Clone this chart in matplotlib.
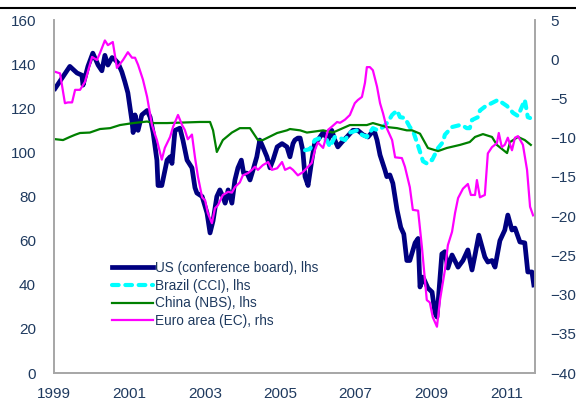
import matplotlib
matplotlib.use("Agg")
import matplotlib.pyplot as plt
from matplotlib.lines import Line2D

# consumer confidence series, dates as decimal years

us_dates = [1999.03, 1999.42, 1999.61, 1999.74, 1999.77, 1999.90, 2000.03, 2000.17, 2000.27, 2000.35,
            2000.43, 2000.54, 2000.62, 2000.70, 2000.80, 2000.88, 2000.96, 2001.07, 2001.10, 2001.15,
            2001.23, 2001.33, 2001.47, 2001.55, 2001.63, 2001.73, 2001.76, 2001.86, 2002.00, 2002.08,
            2002.13, 2002.21, 2002.34, 2002.42, 2002.53, 2002.66, 2002.74, 2002.79, 2002.93, 2003.06,
            2003.14, 2003.22, 2003.32, 2003.40, 2003.48, 2003.54, 2003.62, 2003.72, 2003.80, 2003.88,
            2003.97, 2004.03, 2004.12, 2004.20, 2004.28, 2004.38, 2004.46, 2004.54, 2004.65, 2004.73,
            2004.81, 2004.92, 2005.05, 2005.18, 2005.26, 2005.34, 2005.39, 2005.47, 2005.53, 2005.60,
            2005.66, 2005.74, 2005.84, 2005.92, 2006.00, 2006.14, 2006.27, 2006.37, 2006.45, 2006.53,
            2006.64, 2006.77, 2006.93, 2007.06, 2007.20, 2007.33, 2007.43, 2007.51, 2007.57, 2007.65,
            2007.78, 2007.83, 2007.91, 2007.99, 2008.10, 2008.20, 2008.28, 2008.36, 2008.44, 2008.58,
            2008.66, 2008.71, 2008.79, 2008.92, 2009.03, 2009.11, 2009.16, 2009.29, 2009.37, 2009.45,
            2009.56, 2009.72, 2009.85, 2009.98, 2010.09, 2010.17, 2010.27, 2010.43, 2010.51, 2010.62,
            2010.70, 2010.83, 2010.96, 2011.04, 2011.15, 2011.23, 2011.36, 2011.49, 2011.57, 2011.68,
            2011.73]
us_values = [129, 139, 136, 135, 130.5, 139, 145, 139.6, 137, 144,
             139.6, 143, 142, 140.5, 136.5, 132, 127, 114, 109, 117,
             110, 117, 119, 116, 109, 96.5, 85, 85, 96.5, 98,
             95, 110, 111, 105.6, 96.5, 93, 84, 81.6, 80, 72.5,
             63.5, 69, 80, 83, 80, 77, 83, 77, 87.5, 93,
             96.5, 90.6, 90.6, 87.5, 92, 98, 105.6, 102.5, 98, 93,
             96.5, 102.5, 104, 102.5, 98, 104, 105.6, 106.5, 106.5, 101,
             89, 85, 96.5, 104.7, 105.6, 109, 105.6, 110, 105.6, 102.5,
             104.7, 107, 110, 110, 108, 107, 109, 109, 105.6, 98.8,
             92, 89, 89.8, 86, 74, 66, 63, 51, 51, 59,
             61, 39, 43.5, 38.5, 36.7, 27, 25.4, 54, 55, 47.6,
             53.5, 48, 51, 55.8, 46.7, 53.5, 62.5, 52.6, 50.3, 51,
             48, 60, 64.8, 71.6, 64.8, 65.7, 59.4, 59, 45.8, 45.8,
             39.9]

brazil_dates = [2005.66, 2005.79, 2005.92, 2006.06, 2006.24, 2006.32, 2006.45, 2006.59, 2006.72, 2006.85,
                2007.04, 2007.17, 2007.30, 2007.46, 2007.59, 2007.73, 2007.86, 2007.97, 2008.10, 2008.18,
                2008.31, 2008.44, 2008.52, 2008.66, 2008.79, 2008.89, 2008.97, 2009.03, 2009.19, 2009.32,
                2009.37, 2009.56, 2009.77, 2009.82, 2009.95, 2010.03, 2010.09, 2010.25, 2010.30, 2010.43,
                2010.51, 2010.62, 2010.78, 2011.02, 2011.18, 2011.31, 2011.49, 2011.57, 2011.63]
brazil_values = [101, 101.5, 105.6, 106.5, 105.6, 102.5, 107, 106.5, 105.6, 109,
                 110, 108, 107, 111, 110, 111.5, 113.8, 117, 119, 116,
                 115.6, 111.5, 110, 103, 96, 95, 96.5, 96.5, 102, 104.7,
                 108, 111.5, 112.4, 112.4, 111, 111, 114.7, 116, 119, 120.7,
                 121.5, 122.4, 123.8, 121, 117.9, 116.5, 123.8, 116, 115.6]

china_dates = [1999.03, 1999.24, 1999.42, 1999.56, 1999.69, 1999.95, 2000.22, 2000.49, 2000.75, 2001.10,
               2001.47, 2001.63, 2002.00, 2002.87, 2003.14, 2003.22, 2003.32, 2003.48, 2003.72, 2003.93,
               2004.20, 2004.41, 2004.54, 2004.92, 2005.18, 2005.26, 2005.53, 2005.71, 2006.14, 2006.40,
               2006.85, 2007.30, 2007.46, 2007.83, 2008.10, 2008.36, 2008.50, 2008.71, 2008.92, 2009.19,
               2009.42, 2009.77, 2010.03, 2010.17, 2010.38, 2010.62, 2010.75, 2011.02, 2011.10, 2011.31,
               2011.49, 2011.65]
china_values = [106, 105.6, 107, 108, 108.8, 109, 110.6, 111, 112.4, 113.3,
                114, 113.3, 113.3, 113.8, 113.8, 110, 100.2, 105.6, 109, 111,
                111, 105.6, 105.6, 108.8, 110, 110.6, 110, 109, 110, 109,
                112.4, 112.4, 113.3, 111.5, 111, 110, 110, 108.5, 102, 100.6,
                102, 103.4, 104.7, 107, 108.3, 107, 103.4, 99.7, 104.7, 107,
                105.6, 103.4]

euro_dates = [1999.03, 1999.16, 1999.29, 1999.37, 1999.48, 1999.56, 1999.69, 1999.82, 2000.01, 2000.14,
              2000.22, 2000.35, 2000.43, 2000.56, 2000.67, 2000.83, 2000.96, 2001.07, 2001.15, 2001.23,
              2001.36, 2001.47, 2001.60, 2001.73, 2001.86, 2001.94, 2002.08, 2002.16, 2002.29, 2002.40,
              2002.47, 2002.55, 2002.66, 2002.74, 2002.82, 2002.93, 2003.01, 2003.08, 2003.19, 2003.27,
              2003.35, 2003.48, 2003.62, 2003.72, 2003.80, 2003.93, 2004.01, 2004.15, 2004.25, 2004.33,
              2004.41, 2004.54, 2004.68, 2004.78, 2004.92, 2005.05, 2005.13, 2005.26, 2005.34, 2005.47,
              2005.60, 2005.74, 2005.84, 2005.92, 2006.00, 2006.14, 2006.27, 2006.37, 2006.51, 2006.59,
              2006.72, 2006.85, 2006.98, 2007.06, 2007.17, 2007.25, 2007.30, 2007.38, 2007.46, 2007.57,
              2007.65, 2007.73, 2007.83, 2007.97, 2008.05, 2008.23, 2008.31, 2008.44, 2008.52, 2008.66,
              2008.76, 2008.89, 2008.97, 2009.05, 2009.16, 2009.24, 2009.37, 2009.45, 2009.56, 2009.64,
              2009.72, 2009.85, 2009.98, 2010.06, 2010.17, 2010.22, 2010.30, 2010.43, 2010.51, 2010.62,
              2010.75, 2010.80, 2010.88, 2010.96, 2011.04, 2011.15, 2011.23, 2011.31, 2011.44, 2011.55,
              2011.63, 2011.71]
euro_values = [-1.6, -1.8, -5.6, -5.5, -5.5, -3.9, -3.9, -2.9, 0.3, -0.1,
               0.8, 2.4, 1.8, 2.2, -1.1, -0.1, 0.9, 0.2, 0.2, -0.7,
               -2.6, -4.8, -8.4, -10.3, -12.8, -11.3, -9.9, -8.6, -7.1, -8.4,
               -9.0, -10.2, -9.6, -12.5, -15, -17.6, -18, -19.6, -20.9, -19,
               -18.6, -17.3, -16.9, -17, -16.3, -15.7, -14.8, -14.5, -14.1, -13.7,
               -14.1, -13.5, -13.1, -14.1, -13.9, -13.1, -14.1, -13.8, -14.1, -14.8,
               -14.4, -13.7, -13.2, -11.6, -10.6, -11.3, -9, -8.6, -8, -8.1,
               -7.7, -7.1, -5.6, -5.2, -4.8, -3, -1, -1, -1.4, -3.5,
               -5.6, -6.9, -8.8, -10.3, -12.5, -12.6, -13.7, -16.3, -19.2, -19.3,
               -23.9, -30.7, -31, -32.9, -34.1, -30.7, -26.9, -23.7, -22, -19.6,
               -17.7, -16.5, -15.9, -17.3, -17.3, -15.4, -17.6, -17.3, -12, -11.2,
               -10.7, -9.4, -11.2, -10.9, -10, -11.6, -10, -9.8, -10.9, -14.1,
               -18.8, -19.9]

labels = ["US (conference board), lhs", "Brazil (CCI), lhs", "China (NBS), lhs", "Euro area (EC), rhs"]
colors = ["#000080", "#00FFFF", "#008000", "#FF00FF"]

x_ticks = [1999, 2001, 2003, 2005, 2007, 2009, 2011]
left_ticks = [0, 20, 40, 60, 80, 100, 120, 140, 160]
right_ticks = [-40, -35, -30, -25, -20, -15, -10, -5, 0, 5]

plt.rcParams['font.family'] = ['Liberation Sans', 'DejaVu Sans']
text_color = "#1F3A5F"
spine_color = "#A6A6A6"

fig = plt.figure(figsize=(5.76, 4.01), dpi=100)
ax = fig.add_axes([0.09375, 0.0698, 0.835, 0.8802])
ax2 = ax.twinx()

ax.plot(us_dates, us_values, color=colors[0], lw=3.4, solid_joinstyle='round')
ax.plot(brazil_dates, brazil_values, color=colors[1], lw=3.0, dashes=(1.6, 1.6),
        dash_capstyle='round')
ax.plot(china_dates, china_values, color=colors[2], lw=1.6)
ax2.plot(euro_dates, euro_values, color=colors[3], lw=1.6)

ax.set_xlim(1999, 2011.76)
ax.set_ylim(0, 160)
ax2.set_ylim(-40, 5)
ax.set_xticks(x_ticks)
ax.set_yticks(left_ticks)
ax2.set_yticks(right_ticks)

for a in (ax, ax2):
    for side in ("left", "right", "bottom"):
        a.spines[side].set_color(spine_color)
        a.spines[side].set_linewidth(1.2)
    a.spines["top"].set_visible(False)
ax.tick_params(axis='both', length=0, colors=text_color, labelsize=11)
ax.tick_params(axis='y', pad=13)
ax.tick_params(axis='x', pad=10)
ax2.tick_params(axis='y', length=0, colors=text_color, labelsize=11, pad=11)

# legend on the right axis so it sits above every line
handles = [Line2D([], [], color=colors[0], lw=3.4),
           Line2D([], [], color=colors[1], lw=3.0, dashes=(1.6, 1.6), dash_capstyle='round'),
           Line2D([], [], color=colors[2], lw=1.6),
           Line2D([], [], color=colors[3], lw=1.6)]
leg = ax2.legend(handles, labels, loc='upper left', bbox_to_anchor=(0.12, 0.318),
                 frameon=False, fontsize=9.8, handlelength=3.0, handletextpad=0.15,
                 labelspacing=0.28, borderaxespad=0, borderpad=0)
for t in leg.get_texts():
    t.set_color(text_color)

# rule across the top of the figure
fig.add_artist(Line2D([0, 1], [0.98, 0.98], transform=fig.transFigure, color="black", lw=1.5))

fig.savefig("out.png", dpi=100)
